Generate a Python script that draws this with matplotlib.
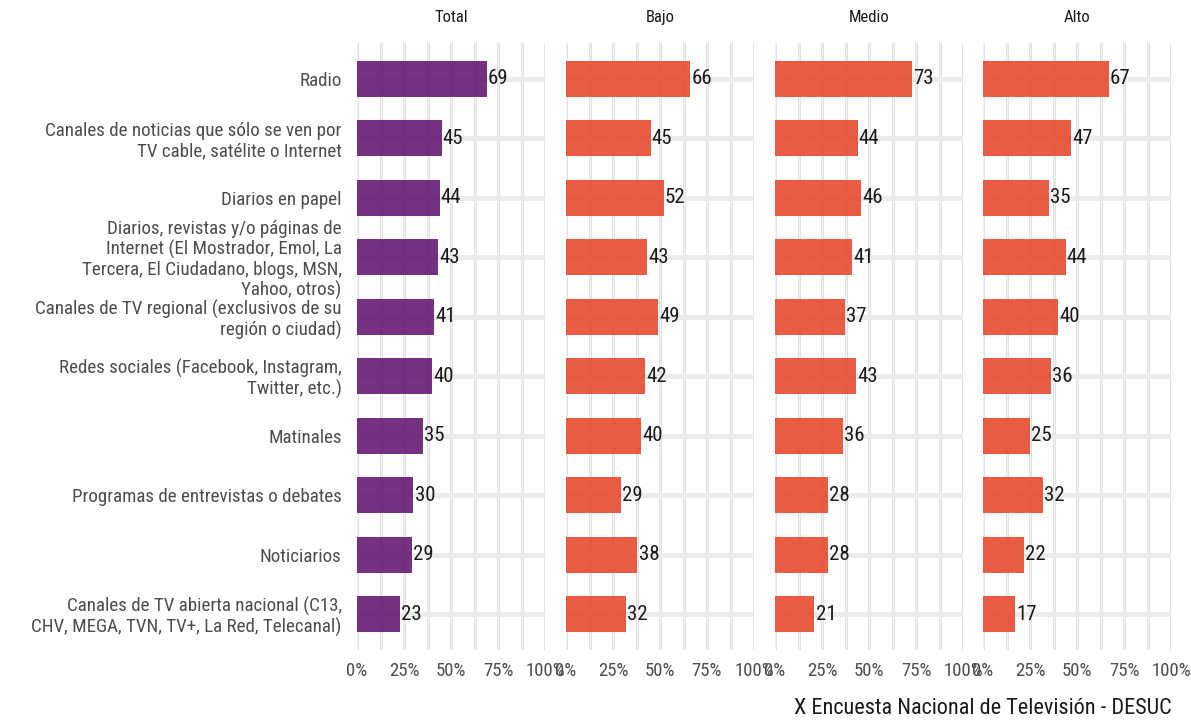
import matplotlib.pyplot as plt
import numpy as np

plt.rcParams['font.family'] = ['Roboto Condensed', 'Liberation Sans Narrow', 'Roboto', 'DejaVu Sans']

# Data
categories = [
    'Radio',
    'Canales de noticias que sólo se ven por\nTV cable, satélite o Internet',
    'Diarios en papel',
    'Diarios, revistas y/o páginas de\nInternet (El Mostrador, Emol, La\nTercera, El Ciudadano, blogs, MSN,\nYahoo, otros)',
    'Canales de TV regional (exclusivos de su\nregión o ciudad)',
    'Redes sociales (Facebook, Instagram,\nTwitter, etc.)',
    'Matinales',
    'Programas de entrevistas o debates',
    'Noticiarios',
    'Canales de TV abierta nacional (C13,\nCHV, MEGA, TVN, TV+, La Red, Telecanal)',
]
panels = ['Total', 'Bajo', 'Medio', 'Alto']
total = [69, 45, 44, 43, 41, 40, 35, 30, 29, 23]
bajo = [66, 45, 52, 43, 49, 42, 40, 29, 38, 32]
medio = [73, 44, 46, 41, 37, 43, 36, 28, 28, 21]
alto = [67, 47, 35, 44, 40, 36, 25, 32, 22, 17]
series = [total, bajo, medio, alto]
colors = ['#661a75', '#e64a2c', '#e64a2c', '#e64a2c']

W, H = 1191, 721
fig = plt.figure(figsize=(W / 100, H / 100), dpi=100)

lefts = [357, 566, 775, 983]
pw = 188
top, bottom = 43, 650
y = np.arange(len(categories))

for i, (name, vals) in enumerate(zip(panels, series)):
    ax = fig.add_axes([lefts[i] / W, 1 - bottom / H, pw / W, (bottom - top) / H])
    ax.set_xlim(0, 100)
    ax.set_ylim(len(categories) - 0.4, -0.6)

    # grid lines
    for gx in np.arange(0, 101, 12.5):
        ax.axvline(gx, color='#dedede', lw=2.2, zorder=0)
        ax.axvline(gx, color='#f2f2f2', lw=1.0, zorder=0)
    for gy in y:
        ax.axhline(gy, color='#ebebeb', lw=3.5, zorder=0)

    bars = ax.barh(y, vals, height=0.6, color=colors[i], alpha=0.9, zorder=2)
    for bar, v in zip(bars, vals):
        ax.text(bar.get_width() + 0.6, bar.get_y() + bar.get_height() / 2, f'{v}',
                ha='left', va='center', fontsize=15, color='#1a1a1a', zorder=3)

    ax.set_xticks([0, 25, 50, 75, 100])
    ax.set_xticklabels(['0%', '25%', '50%', '75%', '100%'], fontsize=13.5, color='#4d4d4d')
    ax.set_yticks(y)
    if i == 0:
        ax.set_yticklabels(categories, fontsize=13.7, color='#4d4d4d', linespacing=1.12)
    else:
        ax.set_yticklabels([])
    ax.tick_params(length=0, pad=9)
    ax.tick_params(axis='y', pad=11)
    for s in ax.spines.values():
        s.set_visible(False)
    ax.set_title(name, fontsize=12, color='#1a1a1a', pad=15)

fig.text(1172 / W, 1 - 708 / H, 'X Encuesta Nacional de Televisión - DESUC',
         ha='right', va='center', fontsize=16, color='#1a1a1a')

fig.savefig('out.png', dpi=100, facecolor='white')
